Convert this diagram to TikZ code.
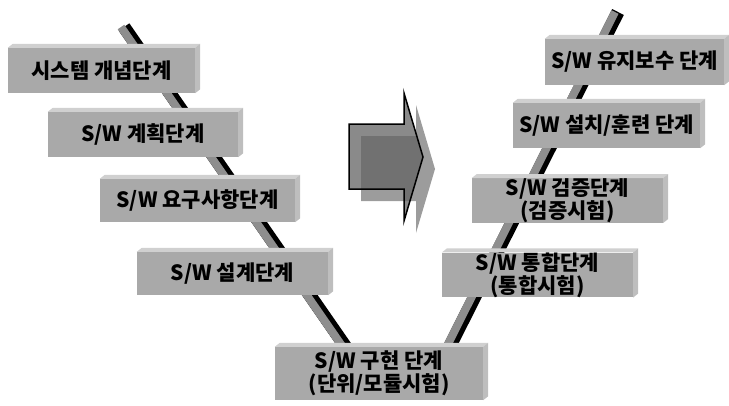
\documentclass[tikz,border=0pt]{standalone}
\usepackage{fontspec}
\setmainfont{Noto Sans CJK KR}
\usetikzlibrary{positioning}
\definecolor{boxface}{HTML}{A9A9A9}
\definecolor{boxtop}{HTML}{D0D0D0}
\definecolor{boxside}{HTML}{BEBEBE}
\definecolor{barface}{HTML}{8E8E8E}
\definecolor{arrowmain}{HTML}{8A8A8A}
\definecolor{arrowshade}{HTML}{9C9C9C}
\definecolor{arrowover}{HTML}{717171}
\tikzset{
  stage/.style={fill=boxface, inner sep=0pt, align=center,
    font=\fontsize{21}{22.5}\selectfont\bfseries},
  bar/.style={line width=13pt, line cap=butt},
}
\begin{document}
\begin{tikzpicture}[x=1pt,y=-1pt]
	\useasboundingbox (0,0) rectangle (729,405);
	% the two legs of the V
	\coordinate(ltop)at(124,27);
	\coordinate(lbot)at(352,356);
	\coordinate(rtop)at(618,12);
	\coordinate(rbot)at(445,356);
	\draw[bar,black](ltop)--(lbot);
	\draw[bar,barface,line width=8pt]([xshift=-3pt]ltop)--([xshift=-3pt]lbot);
	\draw[bar,black](rtop)--(rbot);
	\draw[bar,barface,line width=8pt]([xshift=-3pt]rtop)--([xshift=-3pt]rbot);
	% stages
	\node[stage,minimum width=187pt,minimum height=45pt](concept)at(101.5,70.5){시스템 개념단계};
	\node[stage,minimum width=190pt,minimum height=45pt](plan)at(143,134.5){S/W 계획단계};
	\node[stage,minimum width=195pt,minimum height=43pt](require)at(197.5,200.5){S/W 요구사항단계};
	\node[stage,minimum width=191pt,minimum height=43pt](design)at(232.5,273.5){S/W 설계단계};
	\node[stage,minimum width=208pt,minimum height=53pt](implement)at(379,373.5){S/W 구현 단계\\(단위/모듈시험)};
	\node[stage,minimum width=191pt,minimum height=44pt](integrate)at(537.5,275){S/W 통합단계\\(통합시험)};
	\node[stage,minimum width=191pt,minimum height=43pt](verify)at(567.5,200.5){S/W 검증단계\\(검증시험)};
	\node[stage,minimum width=187pt,minimum height=45pt](install)at(606.5,125.5){S/W 설치/훈련 단계};
	\node[stage,minimum width=179pt,minimum height=46pt](maintain)at(634.5,62){S/W 유지보수 단계};
	\foreach \n in {concept,plan,require,design,implement,integrate,verify,install,maintain}{
		\fill[boxtop](\n.north west)--([shift={(5,-4)}]\n.north west)
			--([shift={(5,-4)}]\n.north east)--(\n.north east)--cycle;
		\fill[boxside](\n.north east)--([shift={(5,-4)}]\n.north east)
			--([shift={(5,-4)}]\n.south east)--(\n.south east)--cycle;
	}
	% big arrow with its shadow
	\def\arrowpath{(349,124)--(404,124)--(404,93)--(423,157)--(404,221)--(404,189)--(349,189)--cycle}
	\fill[arrowshade,shift={(12,12)}]\arrowpath;
	\fill[arrowmain]\arrowpath;
	\begin{scope}
		\clip\arrowpath;
		\fill[arrowover,shift={(12,12)}]\arrowpath;
	\end{scope}
	\draw[line width=1.5pt,line join=miter]\arrowpath;
\end{tikzpicture}
\end{document}
